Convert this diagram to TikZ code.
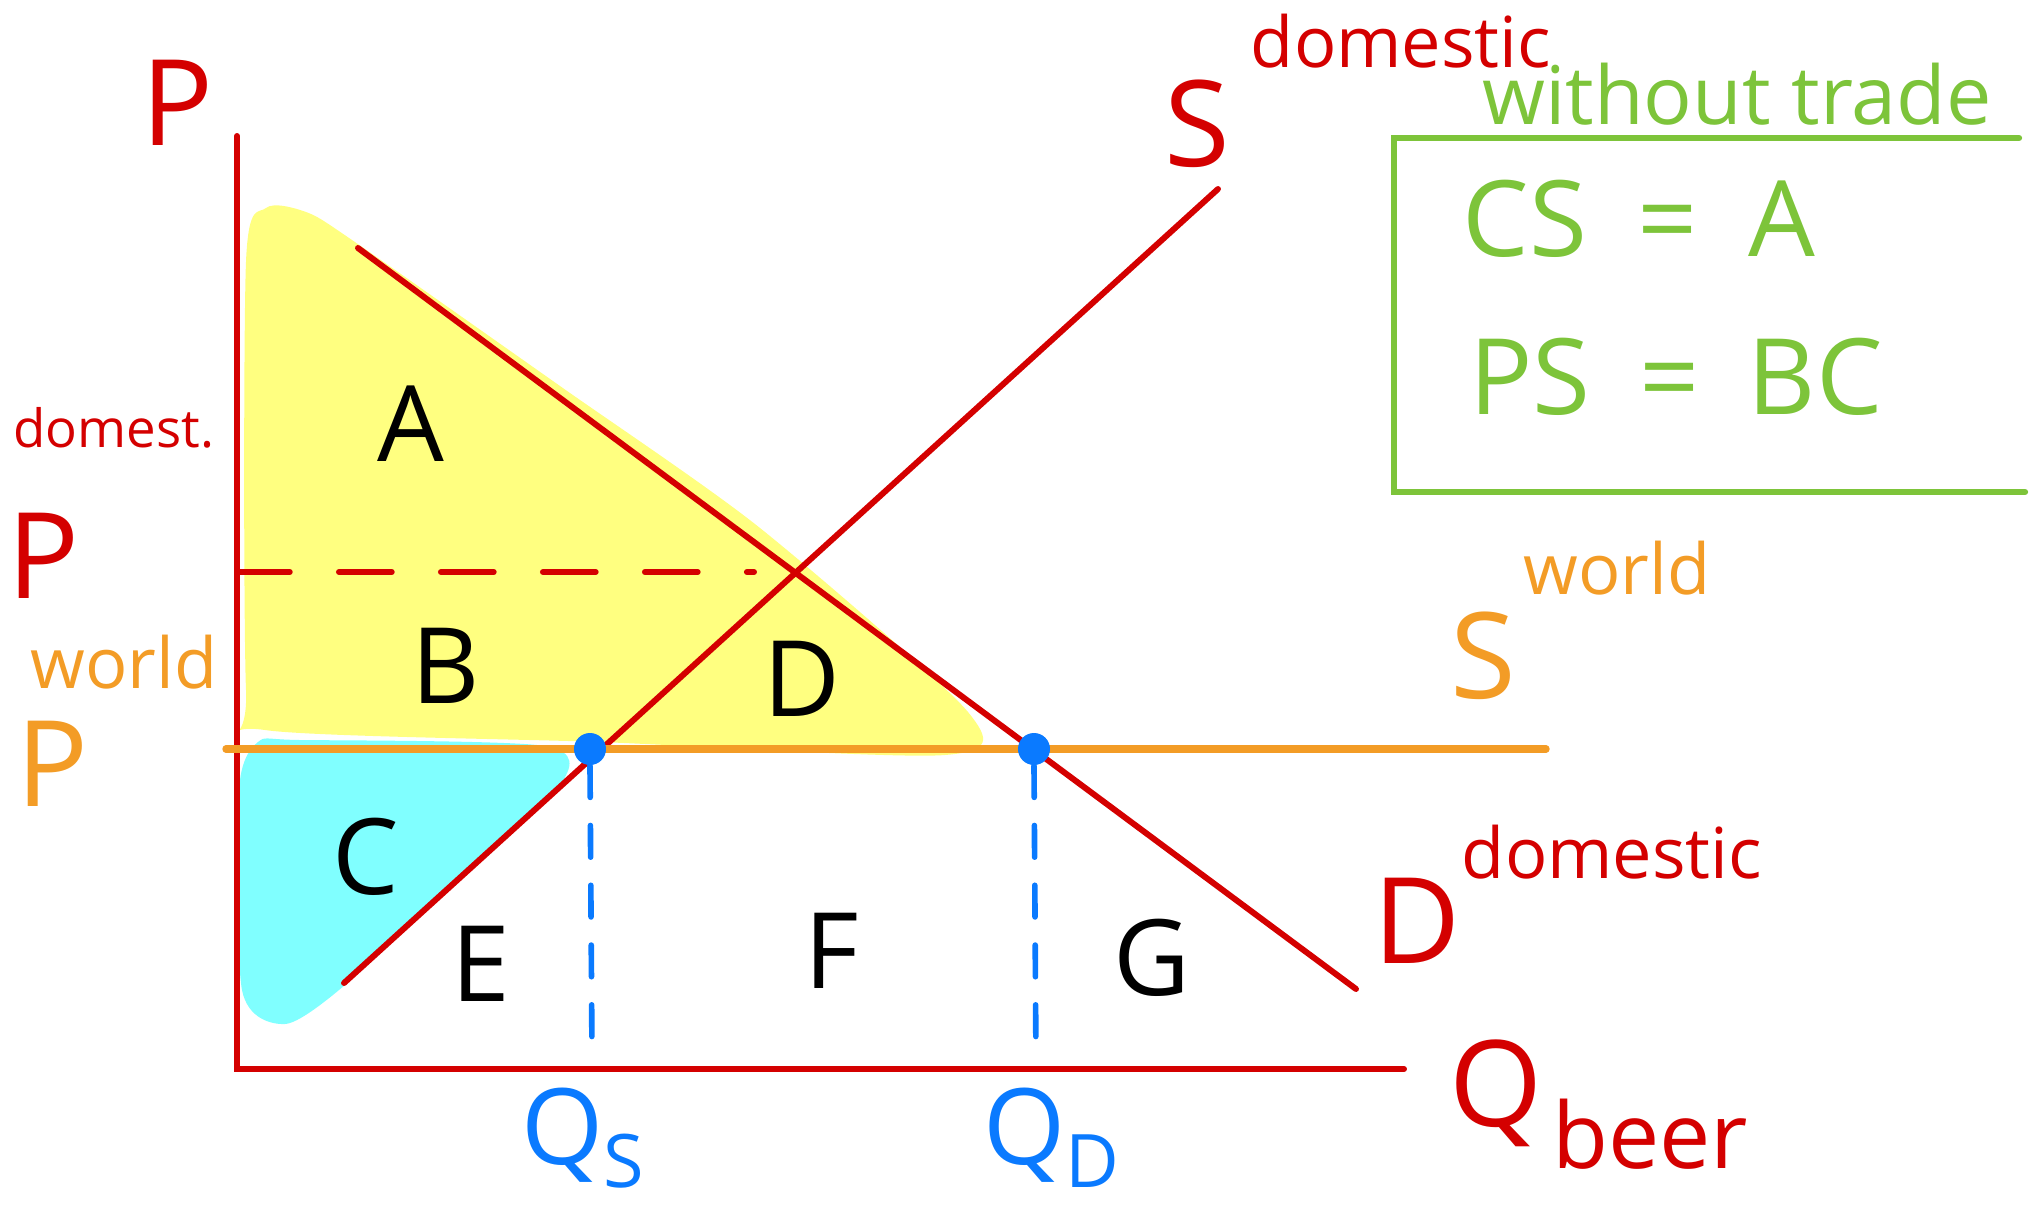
\documentclass[tikz,border=0pt]{standalone}
\usepackage{fontspec}
\setmainfont{Open Sans}
\usepackage{xcolor}
\usetikzlibrary{positioning}

\definecolor{econred}{HTML}{D40000}
\definecolor{worldorange}{HTML}{F39C26}
\definecolor{boxgreen}{HTML}{7DC43A}
\definecolor{qblue}{HTML}{0A7AFF}
\definecolor{areayellow}{HTML}{FFFF80}
\definecolor{areacyan}{HTML}{80FFFF}

\begin{document}
\begin{tikzpicture}[
        x=0.01cm, y=-0.01cm,
        % Stili per le curve
        curve/.style={line width=1.7pt, draw=econred, line cap=round},
        worldline/.style={line width=2.1pt, draw=worldorange, line cap=round},
        pricedash/.style={line width=1.7pt, draw=econred, line cap=round, dash pattern=on 15pt off 14pt},
        qdash/.style={line width=1.6pt, draw=qblue, line cap=round, dash pattern=on 9pt off 8pt},
        tradebox/.style={line width=1.8pt, draw=boxgreen, line cap=round},
        % Stili per le etichette
        biglbl/.style={font=\fontsize{34}{34}\selectfont},
        suplbl/.style={font=\fontsize{20}{20}\selectfont},
        area/.style={font=\fontsize{30}{30}\selectfont, text=black},
        boxlbl/.style={font=\fontsize{30}{30}\selectfont, text=boxgreen},
        dot/.style={circle, fill=qblue, inner sep=0pt, minimum size=0.32cm}
    ]
    \useasboundingbox (0,0) rectangle (2029,1205);

    % --- COORDINATES ---
    \coordinate (ytop) at (237,136);
    \coordinate (origin) at (237,1069);
    \coordinate (xend) at (1404,1069);
    \coordinate (dtop) at (358,248);
    \coordinate (dbot) at (1356,989);
    \coordinate (sbot) at (344,983);
    \coordinate (stop) at (1218,189);
    \coordinate (pwl) at (226,749);
    \coordinate (pwr) at (1546,749);
    \coordinate (pdl) at (237,572);
    \coordinate (pdr) at (754,572);
    \coordinate (qsfoot) at (592,1055);
    \coordinate (qdfoot) at (1036,1062);

    % --- SURPLUS AREAS ---
    \fill[areayellow] plot[smooth cycle, tension=0.45] coordinates {(246,262) (266,208) (306,212)
        (352,240) (560,386) (760,528) (968,712) (945,755) (600,742) (265,730) (246,690)};
    \fill[areacyan] plot[smooth cycle, tension=0.45] coordinates {(239,790) (258,742) (300,740)
        (545,746) (560,785) (446,888) (345,985) (285,1024) (242,990)};

    % --- AXES AND CURVES ---
    \draw[curve] (ytop) -- (origin) -- (xend);
    \draw[curve] (dtop) -- (dbot);
    \draw[curve] (sbot) -- (stop);
    \draw[pricedash] (pdl) -- (pdr);
    \draw[worldline] (pwl) -- (pwr);

    % --- QUANTITIES ---
    \node[dot] (qs) at (590,749) {};
    \node[dot] (qd) at (1034,749) {};
    \draw[qdash] (qs.south) -- (qsfoot);
    \draw[qdash] (qd.south) -- (qdfoot);
    \node[biglbl, font=\fontsize{30}{30}\selectfont, text=qblue] (qslab) at (584,1138) {Q\textsubscript{S}};
    \node[biglbl, font=\fontsize{30}{30}\selectfont, text=qblue] (qdlab) at (1052,1138) {Q\textsubscript{D}};

    % --- AXIS LABELS ---
    \node[biglbl, text=econred] (plab) at (177,103) {P};
    \node[suplbl, font=\fontsize{15}{15}\selectfont, text=econred] (domlab) at (114,428) {domest.};
    \node[biglbl, text=econred] (pdom) at (43,556) {P};
    \node[suplbl, text=worldorange] (worldlab) at (124,662) {world};
    \node[biglbl, text=worldorange] (pworld) at (52,764) {P};
    \node[biglbl, text=econred] (qlab) at (1496,1093) {Q};
    \node[suplbl, font=\fontsize{26}{26}\selectfont, text=econred] (beerlab) at (1650,1134) {beer};

    % --- CURVE LABELS ---
    \node[biglbl, text=econred] (slab) at (1197,124) {S};
    \node[suplbl, text=econred] (sdomlab) at (1401,41) {domestic};
    \node[biglbl, text=worldorange] (swlab) at (1483,656) {S};
    \node[suplbl, text=worldorange] (swworld) at (1617,568) {world};
    \node[biglbl, text=econred] (dlab) at (1417,921) {D};
    \node[suplbl, text=econred] (ddomlab) at (1612,852) {domestic};

    % --- AREA LABELS ---
    \foreach \name/\x/\y in {A/411/424, B/446/666, C/366/857, D/802/679, E/481/964, F/832/951, G/1152/958} {
        \node[area] (area\name) at (\x,\y) {\name};
    }

    % --- WITHOUT TRADE BOX ---
    \draw[tradebox] (2019,138) -- (1394,138) -- (1394,492) -- (2025,492);
    \node[suplbl, font=\fontsize{23}{23}\selectfont, text=boxgreen] (wtlab) at (1737,94) {without trade};
    \node[boxlbl] (cslab) at (1639,219) {CS\hspace{0.48em}=\hspace{0.48em}A};
    \node[boxlbl] (pslab) at (1676,377) {PS\hspace{0.46em}=\hspace{0.46em}BC};

\end{tikzpicture}
\end{document}
